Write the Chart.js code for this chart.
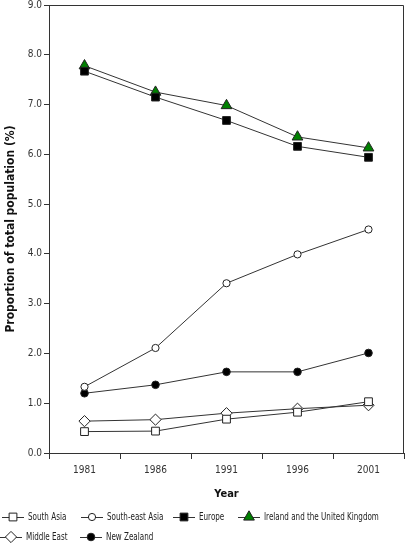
<!DOCTYPE html>
<html>
<head>
<meta charset="utf-8">
<script src="https://cdn.jsdelivr.net/npm/chart.js@4/dist/chart.umd.min.js"></script>
<style>
html,body{margin:0;padding:0;background:#fff;}
#wrap{position:relative;width:405px;height:544px;}
</style>
</head>
<body>
<div id="wrap"><canvas id="c" width="405" height="544"></canvas></div>
<script>
const years = ['1981', '1986', '1991', '1996', '2001'];
const southAsia = [0.43, 0.44, 0.68, 0.82, 1.03];
const southEastAsia = [1.33, 2.11, 3.41, 3.99, 4.49];
const europe = [7.67, 7.15, 6.68, 6.16, 5.94];
const irelandUK = [7.78, 7.25, 6.98, 6.35, 6.13];
const middleEast = [0.64, 0.67, 0.80, 0.89, 0.96];
const newZealand = [1.20, 1.37, 1.63, 1.63, 2.01];
const yTicks = [0, 1, 2, 3, 4, 5, 6, 7, 8, 9];

const FONT = "'DejaVu Sans Condensed', 'DejaVu Sans', sans-serif";
const LINE = '#333333';

function ds(label, data, style, fill, radius) {
  return {
    label, data,
    borderColor: LINE, borderWidth: 1,
    pointStyle: style, pointRadius: radius, pointHoverRadius: radius,
    pointBackgroundColor: fill, pointBorderColor: '#222', pointBorderWidth: 1,
    tension: 0, fill: false
  };
}

const datasets = [
  ds('South Asia', southAsia, 'rect', '#fff', 5.5),
  ds('South-east Asia', southEastAsia, 'circle', '#fff', 3.6),
  ds('Europe', europe, 'rect', '#000', 5.5),
  ds('Ireland and the United Kingdom', irelandUK, 'triangle', '#008000', 6.2),
  ds('Middle East', middleEast, 'rectRot', '#fff', 5.6),
  ds('New Zealand', newZealand, 'circle', '#000', 3.8)
];

const legendLayout = [
  {i: 0, x: 2, y: 517},
  {i: 1, x: 81, y: 517},
  {i: 2, x: 173, y: 517},
  {i: 3, x: 238, y: 517},
  {i: 4, x: 0, y: 537},
  {i: 5, x: 80, y: 537}
];

const framePlugin = {
  id: 'frame',
  afterDraw(chart) {
    const {ctx, chartArea: a} = chart;
    ctx.save();
    ctx.strokeStyle = LINE;
    ctx.lineWidth = 1;
    ctx.beginPath();
    ctx.moveTo(a.left, a.top + 0.5);
    ctx.lineTo(a.right - 0.5, a.top + 0.5);
    ctx.lineTo(a.right - 0.5, a.bottom);
    ctx.stroke();
    legendLayout.forEach(it => {
      const d = chart.data.datasets[it.i];
      const y = it.y;
      ctx.strokeStyle = LINE;
      ctx.lineWidth = 1;
      ctx.beginPath();
      ctx.moveTo(it.x, y + 0.5);
      ctx.lineTo(it.x + 22, y + 0.5);
      ctx.stroke();
      ctx.fillStyle = d.pointBackgroundColor;
      ctx.strokeStyle = '#222';
      Chart.helpers.drawPoint(ctx, {
        pointStyle: d.pointStyle, radius: d.pointRadius, rotation: 0, borderWidth: 1
      }, it.x + 11, y);
      ctx.save();
      ctx.translate(it.x + 26, y + 0.5);
      ctx.scale(0.8, 1);
      ctx.font = '10px ' + FONT;
      ctx.textBaseline = 'middle';
      ctx.fillStyle = '#222';
      ctx.fillText(d.label, 0, 0);
      ctx.restore();
    });
    ctx.restore();
  }
};

new Chart(document.getElementById('c'), {
  type: 'line',
  data: { labels: years, datasets },
  plugins: [framePlugin],
  options: {
    responsive: false,
    animation: false,
    layout: { autoPadding: false, padding: { left: 0, right: 1, top: 5, bottom: 43 } },
    plugins: { legend: { display: false }, tooltip: { enabled: false } },
    scales: {
      x: {
        type: 'category',
        offset: true,
        grid: { offset: true, drawOnChartArea: false, drawTicks: true, tickLength: 6, color: LINE },
        border: { display: true, color: LINE, width: 1 },
        ticks: { color: '#333', font: { family: FONT, size: 10 }, padding: 5 },
        title: { display: true, text: 'Year', color: '#111', font: { family: FONT, size: 11, weight: 'bold' }, padding: { top: 8, bottom: 0 } },
        afterFit(s) { s.height = 48; s.paddingLeft = 0; s.paddingRight = 0; }
      },
      y: {
        min: 0, max: 9,
        afterBuildTicks(s) { s.ticks = yTicks.map(v => ({ value: v })); },
        grid: { drawOnChartArea: false, drawTicks: true, tickLength: 5, color: LINE },
        border: { display: true, color: LINE, width: 1 },
        ticks: { color: '#333', font: { family: FONT, size: 10 }, padding: 2, callback: v => Number(v).toFixed(1) },
        title: { display: true, text: 'Proportion of total population (%)', color: '#111', font: { family: FONT, size: 12, weight: 'bold' }, padding: { top: 4, bottom: 2 } },
        afterFit(s) { s.width = 49; s.paddingTop = 0; s.paddingBottom = 0; }
      }
    }
  }
});
</script>
</body>
</html>
